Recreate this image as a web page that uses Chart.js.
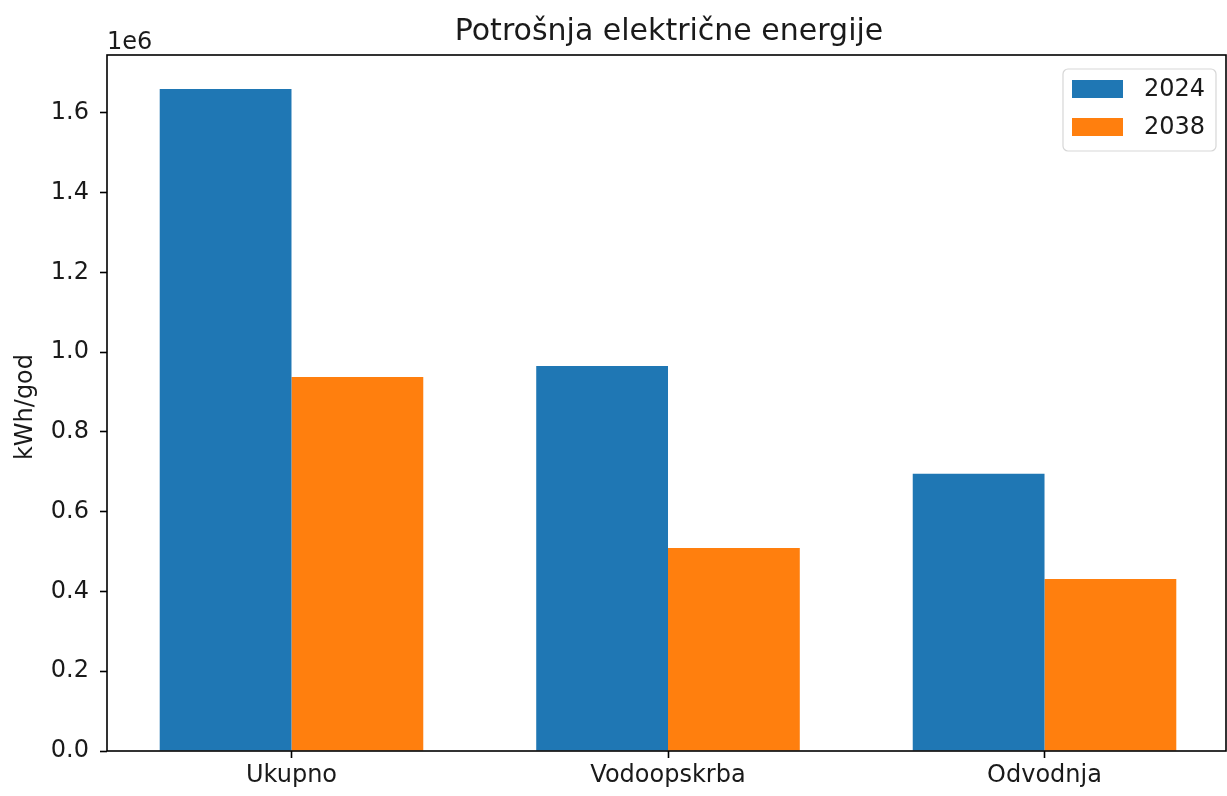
<!DOCTYPE html>
<html>
<head>
<meta charset="utf-8">
<script src="https://cdn.jsdelivr.net/npm/chart.js@4/dist/chart.umd.min.js"></script>
<style>
  html, body { margin: 0; padding: 0; background: #fff; }
  #wrap { width: 1227px; height: 796px; }
</style>
</head>
<body>
<div id="wrap"><canvas id="chart"></canvas></div>
<script>
// Data
const categories = ['Ukupno', 'Vodoopskrba', 'Odvodnja'];
const seriesLabels = ['2024', '2038'];
const values2024 = [1660000, 965000, 695000];
const values2038 = [938000, 509000, 431000];
const yTicks = [0, 200000, 400000, 600000, 800000, 1000000, 1200000, 1400000, 1600000];

const FONT = 'DejaVu Sans';
const TICK_SIZE = 24;

// Frame, title, offset text, y label and the in-plot legend (matplotlib look)
const decorations = {
    id: 'decorations',
    afterDraw(chart) {
        const ctx = chart.ctx;
        const a = chart.chartArea;
        ctx.save();

        // axes box
        ctx.strokeStyle = '#000';
        ctx.lineWidth = 1.6;
        ctx.strokeRect(a.left, a.top, a.right - a.left, a.bottom - a.top);

        ctx.fillStyle = '#1a1a1a';
        // title
        ctx.font = `30px "${FONT}"`;
        ctx.textAlign = 'center';
        ctx.textBaseline = 'alphabetic';
        ctx.fillText('Potrošnja električne energije', 669, 40);

        // scale offset
        ctx.font = `${TICK_SIZE}px "${FONT}"`;
        ctx.textAlign = 'left';
        ctx.fillText('1e6', a.left, 49);

        // y axis label
        ctx.save();
        ctx.translate(26, 407);
        ctx.rotate(-Math.PI / 2);
        ctx.textAlign = 'center';
        ctx.textBaseline = 'middle';
        ctx.fillText('kWh/god', 0, 0);
        ctx.restore();

        // legend
        const bx = 1063, by = 69, bw = 153, bh = 82;
        ctx.globalAlpha = 0.8;
        ctx.fillStyle = '#fff';
        ctx.strokeStyle = '#cccccc';
        ctx.lineWidth = 1.2;
        ctx.beginPath();
        ctx.roundRect(bx, by, bw, bh, 5);
        ctx.fill();
        ctx.stroke();
        ctx.globalAlpha = 1;
        chart.data.datasets.forEach((ds, i) => {
            const y = 80 + i * 38;
            ctx.fillStyle = ds.backgroundColor;
            ctx.fillRect(1072, y, 51, 18);
            ctx.fillStyle = '#1a1a1a';
            ctx.textAlign = 'left';
            ctx.textBaseline = 'middle';
            ctx.fillText(ds.label, 1144, y + 10);
        });
        ctx.restore();
    }
};

new Chart(document.getElementById('chart').getContext('2d'), {
    type: 'bar',
    data: {
        datasets: [
            {
                label: seriesLabels[0],
                data: values2024.map((v, i) => ({ x: i, y: v })),
                backgroundColor: '#1f77b4'
            },
            {
                label: seriesLabels[1],
                data: values2038.map((v, i) => ({ x: i, y: v })),
                backgroundColor: '#ff7f0e'
            }
        ]
    },
    options: {
        responsive: true,
        maintainAspectRatio: false,
        animation: false,
        layout: { padding: { top: 55, right: 1, left: 0, bottom: 0 } },
        datasets: {
            bar: { categoryPercentage: 0.7, barPercentage: 1.0 }
        },
        scales: {
            x: {
                type: 'linear',
                min: -0.49,
                max: 2.482,
                offset: false,
                afterBuildTicks: (axis) => {
                    axis.ticks = categories.map((c, i) => ({ value: i }));
                },
                afterFit: (scale) => { scale.height = 45; },
                grid: {
                    display: true,
                    offset: false,
                    drawOnChartArea: false,
                    drawTicks: true,
                    tickLength: 7,
                    tickWidth: 1.6,
                    color: '#000'
                },
                border: { display: false },
                ticks: {
                    padding: 3,
                    autoSkip: false,
                    maxRotation: 0,
                    color: '#1a1a1a',
                    font: { family: FONT, size: TICK_SIZE },
                    callback: (v) => categories[v]
                }
            },
            y: {
                min: 0,
                max: 1745000,
                afterBuildTicks: (axis) => {
                    axis.ticks = yTicks.map(v => ({ value: v }));
                },
                afterFit: (scale) => { scale.width = 107; },
                grid: {
                    display: true,
                    drawOnChartArea: false,
                    drawTicks: true,
                    tickLength: 7,
                    tickWidth: 1.6,
                    color: '#000'
                },
                border: { display: false },
                ticks: {
                    padding: 11,
                    color: '#1a1a1a',
                    font: { family: FONT, size: TICK_SIZE },
                    callback: (v) => (v / 1e6).toFixed(1)
                }
            }
        },
        plugins: {
            legend: { display: false },
            title: { display: false },
            tooltip: { enabled: false }
        }
    },
    plugins: [decorations]
});
</script>
</body>
</html>
